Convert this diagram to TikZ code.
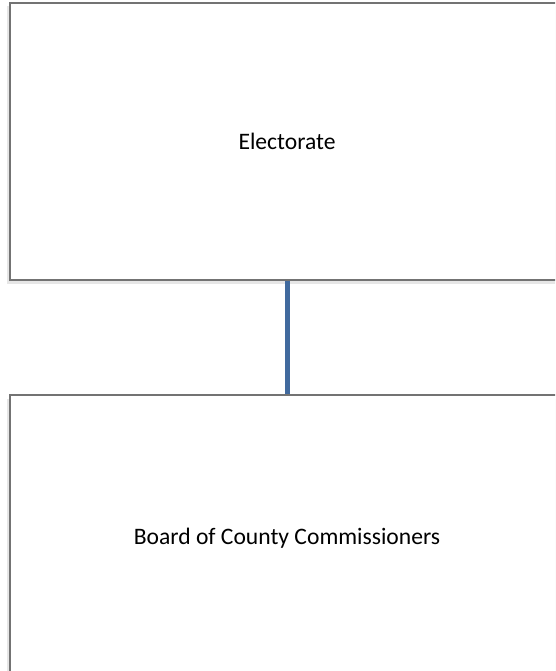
\documentclass[tikz,border=0pt]{standalone}
\usepackage{fontspec}
\setmainfont{Carlito}
\usetikzlibrary{shadows}
\tikzset{
  orgbox/.style={draw=gray!90!black, line width=1.5pt, fill=white,
    minimum width=554pt, inner sep=0pt,
    font=\fontsize{23.6}{28}\selectfont,
    drop shadow={shadow xshift=-3.5pt, shadow yshift=-3.5pt, opacity=0.2, fill=gray}},
  orglink/.style={draw={rgb,255:red,65;green,106;blue,158}, line width=5pt}
}
\begin{document}
\begin{tikzpicture}[x=1pt, y=-1pt]
  \useasboundingbox (0,0) rectangle (555,671);
  \clip (0,0) rectangle (555,671);

  % boxes
  \node[orgbox, minimum height=277pt] (elect) at (287,141.5) {Electorate};
  \node[orgbox, minimum height=286pt] (board) at (287,538) {Board of County Commissioners};

  % connector
  \draw[orglink] (elect.south) -- (board.north);
\end{tikzpicture}
\end{document}
